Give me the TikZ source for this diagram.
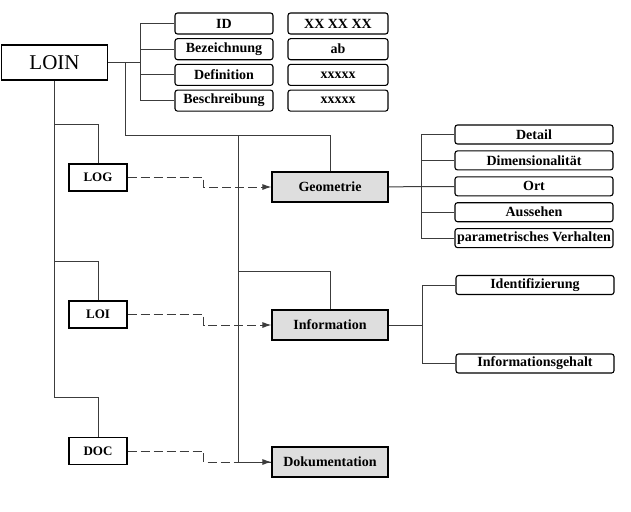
\documentclass[tikz,border=0pt]{standalone}
\usepackage{fontspec}
\setmainfont{Liberation Serif}
\usepackage{tikz}
\usetikzlibrary{positioning,arrows.meta,calc}
\definecolor{linegray}{RGB}{60,60,60}
\definecolor{boxgray}{RGB}{222,222,222}

\begin{document}
\begin{tikzpicture}[
    x=1pt, y=-1pt,
    font=\fontsize{14}{16}\selectfont\bfseries,
    attr/.style={rectangle, draw=black, line width=1.1pt, rounded corners=2.5pt, minimum width=98pt, minimum height=21pt, inner sep=1pt},
    val/.style={attr, minimum width=100pt},
    prop/.style={attr, minimum width=158pt, minimum height=19pt},
    level/.style={rectangle, draw=black, line width=1.1pt, minimum width=58pt, minimum height=27pt, font=\fontsize{13}{15}\selectfont\bfseries},
    cat/.style={rectangle, draw=black, fill=boxgray, line width=1.1pt, minimum width=116pt, minimum height=30pt},
    line/.style={draw=linegray, line width=1pt},
    dasharrow/.style={line, dash pattern=on 9pt off 4pt, -{Latex[length=9pt,width=6pt]}}
]
\useasboundingbox (0,0) rectangle (631,511);

% root
\node[level, minimum width=106pt, minimum height=35pt, font=\fontsize{21}{24}\selectfont] (loin) at (54.5,62.5) {LOIN};

% attributes and values
\node[attr] (id) at (224,23.5) {ID};
\node[attr, below=3.6pt of id] (bez) {Bezeichnung};
\node[attr, below=3.6pt of bez] (def) {Definition};
\node[attr, below=3.6pt of def] (besch) {Beschreibung};

\node[val] (idv) at (338,23.5) {XX XX XX};
\node[val, below=3.6pt of idv] (bezv) {ab};
\node[val, below=3.6pt of bezv] (defv) {xxxxx};
\node[val, below=3.6pt of defv] (beschv) {xxxxx};

% levels
\node[level] (log) at (98,177.5) {LOG};
\node[level] (loi) at (98,314.5) {LOI};
\node[level] (doc) at (98,451) {DOC};

% categories
\node[cat] (geo) at (330,187) {Geometrie};
\node[cat] (inf) at (330,325) {Information};
\node[cat] (dok) at (330,462) {Dokumentation};

% geometry properties
\node[prop] (detail) at (534,134.5) {Detail};
\node[prop, below=5.8pt of detail] (dim) {Dimensionalität};
\node[prop, below=5.8pt of dim] (ort) {Ort};
\node[prop, below=5.8pt of ort] (auss) {Aussehen};
\node[prop, below=5.8pt of auss] (param) {parametrisches Verhalten};

% information properties
\node[prop] (ident) at (535,285) {Identifizierung};
\node[prop] (gehalt) at (535,363.5) {Informationsgehalt};

% tree lines
\coordinate (attrbus) at (140,62.5);
\coordinate (catjoin) at (125,135);
\coordinate (catbus) at (238,135);
\coordinate (infjoin) at (238,271);

\draw[line] (loin) -- (attrbus);
\foreach \a in {id,bez,def,besch}
    \draw[line] (attrbus) |- (\a.west);

\draw[line] (catjoin |- loin) -- (catjoin) -| (geo.north);
\draw[line] (catbus) |- (dok.west);
\draw[line] (infjoin) -| (inf.north);

\foreach \lv in {log,loi,doc}
    \draw[line] (\lv.north) -- ++(0,-39) -| (loin.south);

\draw[line] (geo) -- (ort);
\foreach \p in {detail,dim,ort,auss,param}
    \draw[line] (\p.west) -- ++(-33,0) |- (ort.west);

\draw[line] (inf.east) -- ++(33.5,0);
\draw[line] (ident.west) -- ++(-33,0) |- (gehalt.west);

% level links
\draw[dasharrow] (log.east) -- ++(76,0) |- (geo.west);
\draw[dasharrow] (loi.east) -- ++(76,0) |- (inf.west);
\draw[dasharrow] (doc.east) -- ++(76,0) |- (dok.west);

\end{tikzpicture}
\end{document}
